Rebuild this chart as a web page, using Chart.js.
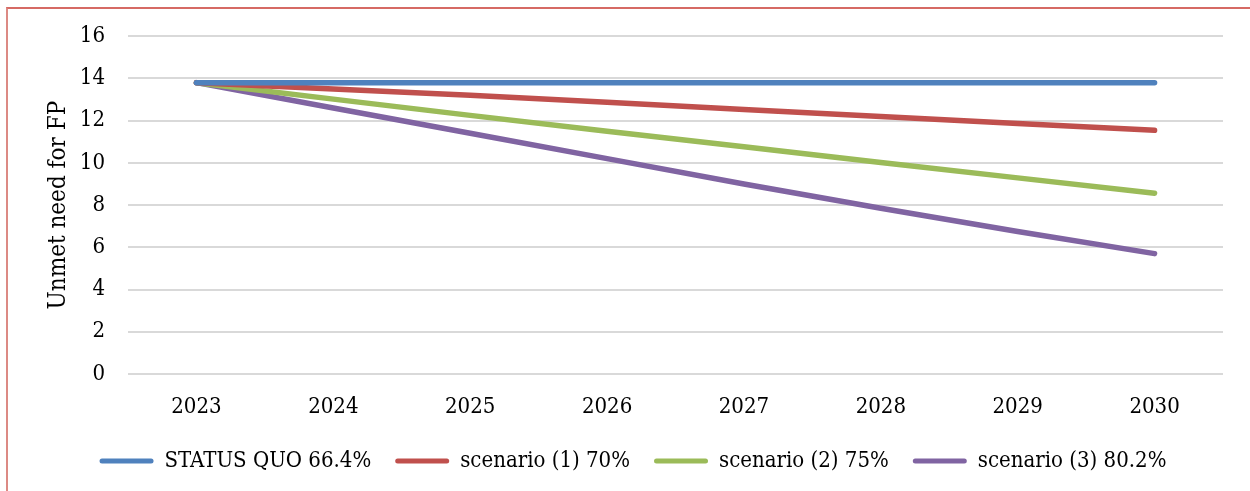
<!DOCTYPE html>
<html>
<head>
<meta charset="utf-8">
<script src="https://cdn.jsdelivr.net/npm/chart.js@4/dist/chart.umd.min.js"></script>
<style>
  html, body { margin: 0; padding: 0; background: #fff; width: 1250px; height: 491px; overflow: hidden; }
  #frame { position: absolute; left: 6px; top: 7px; width: 1400px; height: 700px;
           border-left: 2px solid #dc8a84; border-top: 2px solid #d66a64; }
  #wrap { position: absolute; left: 0; top: 0; width: 1250px; height: 491px; }
</style>
</head>
<body>
<div id="frame"></div>
<div id="wrap"><canvas id="c" width="1250" height="491"></canvas></div>
<script>
const years = ['2023', '2024', '2025', '2026', '2027', '2028', '2029', '2030'];
const statusQuo = [13.8, 13.8, 13.8, 13.8, 13.8, 13.8, 13.8, 13.8];
const scenario1 = [13.8, 13.5, 13.2, 12.87, 12.53, 12.2, 11.87, 11.54];
const scenario2 = [13.8, 13.02, 12.25, 11.5, 10.76, 10.02, 9.29, 8.56];
const scenario3 = [13.8, 12.6, 11.4, 10.2, 9.0, 7.85, 6.75, 5.7];
const seriesNames = ['STATUS QUO 66.4%', 'scenario (1) 70%', 'scenario (2) 75%', 'scenario (3) 80.2%'];
const seriesColors = ['#4f81bd', '#c0504d', '#9bbb59', '#8064a2'];
const yTitle = 'Unmet need for FP';

const FONT = '"DejaVu Serif Condensed", "DejaVu Serif", serif';
const allSeries = [statusQuo, scenario1, scenario2, scenario3];

new Chart(document.getElementById('c'), {
  type: 'line',
  data: {
    labels: years,
    datasets: allSeries.map((d, i) => ({
      label: seriesNames[i],
      data: d,
      borderColor: seriesColors[i],
      backgroundColor: seriesColors[i],
      borderWidth: 5.5,
      borderCapStyle: 'round',
      borderJoinStyle: 'round',
      pointRadius: 0,
      pointHoverRadius: 0,
      tension: 0,
      fill: false
    }))
  },
  options: {
    responsive: false,
    animation: false,
    devicePixelRatio: 1,
    layout: { padding: { left: 43, right: 27, top: 36, bottom: 9 } },
    plugins: {
      tooltip: { enabled: false },
      legend: {
        position: 'bottom',
        labels: {
          font: { family: FONT, size: 22 },
          color: '#000',
          boxWidth: 54,
          boxHeight: 5,
          padding: 24,
          generateLabels(chart) {
            const items = Chart.defaults.plugins.legend.labels.generateLabels(chart);
            items.forEach((it, i) => {
              it.lineWidth = 0;
              it.fillStyle = seriesColors[i];
              it.borderRadius = 2.5;
            });
            return items;
          }
        }
      }
    },
    scales: {
      x: {
        offset: true,
        grid: { display: false, drawTicks: false },
        border: { display: false },
        ticks: { font: { family: FONT, size: 22 }, color: '#000', padding: 20, maxRotation: 0 },
        afterFit(scale) { scale.height = 52; }
      },
      y: {
        min: 0,
        max: 16,
        grid: { color: '#d9d9d9', lineWidth: 2, drawTicks: false },
        border: { display: false },
        ticks: { stepSize: 2, font: { family: FONT, size: 22 }, color: '#000', padding: 23 },
        title: {
          display: true,
          text: yTitle,
          font: { family: FONT, size: 24 },
          color: '#000',
          padding: { top: 1, bottom: 0 }
        },
        afterFit(scale) { scale.width = 85; }
      }
    }
  }
});
</script>
</body>
</html>
